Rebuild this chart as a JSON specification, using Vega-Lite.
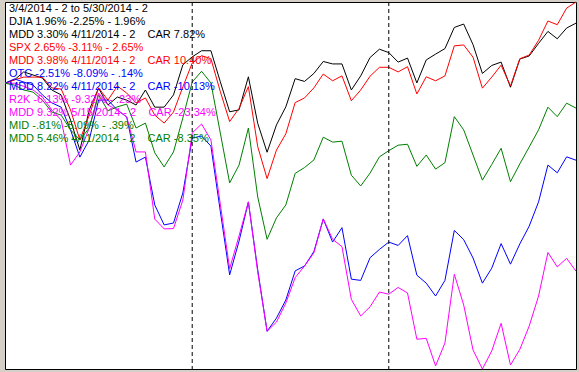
{
  "$schema": "https://vega.github.io/schema/vega-lite/v6.json",
  "width": 571,
  "height": 367,
  "autosize": {"type": "none"},
  "padding": {"left": 5, "top": 2, "right": 3, "bottom": 3},
  "background": "#d4d0c8",
  "config": {
    "view": {"fill": "white", "stroke": "black", "strokeWidth": 1},
    "font": "Liberation Sans"
  },
  "datasets": {
    "prices": [
      {"date": "2014-03-04", "DJIA": 0, "SPX": 0, "OTC": 0, "R2K": 0, "MID": 0},
      {"date": "2014-03-05", "DJIA": 0.11, "SPX": 0.11, "OTC": 0.14, "R2K": 0.0, "MID": -0.06},
      {"date": "2014-03-06", "DJIA": 0.37, "SPX": 0.2, "OTC": 0.04, "R2K": -0.1, "MID": -0.22},
      {"date": "2014-03-07", "DJIA": 0.27, "SPX": 0.2, "OTC": -0.06, "R2K": -0.22, "MID": -0.29},
      {"date": "2014-03-10", "DJIA": 0.17, "SPX": 0.2, "OTC": -0.38, "R2K": -0.45, "MID": -0.55},
      {"date": "2014-03-11", "DJIA": -0.22, "SPX": -0.15, "OTC": -0.64, "R2K": -0.87, "MID": -0.94},
      {"date": "2014-03-12", "DJIA": -0.38, "SPX": -0.19, "OTC": -0.78, "R2K": -1.2, "MID": -1.04},
      {"date": "2014-03-13", "DJIA": -1.2, "SPX": -0.87, "OTC": -1.52, "R2K": -2.67, "MID": -1.52},
      {"date": "2014-03-14", "DJIA": -2.18, "SPX": -1.85, "OTC": -2.41, "R2K": -2.24, "MID": -1.85},
      {"date": "2014-03-17", "DJIA": -0.87, "SPX": -1.04, "OTC": -1.85, "R2K": -1.46, "MID": -1.46},
      {"date": "2014-03-18", "DJIA": -0.16, "SPX": -0.15, "OTC": -0.55, "R2K": -0.32, "MID": -0.38},
      {"date": "2014-03-19", "DJIA": -0.71, "SPX": -0.55, "OTC": -0.55, "R2K": -0.71, "MID": -0.9},
      {"date": "2014-03-20", "DJIA": -0.45, "SPX": -0.09, "OTC": -0.87, "R2K": -0.87, "MID": -0.77},
      {"date": "2014-03-21", "DJIA": -0.55, "SPX": -0.32, "OTC": -1.1, "R2K": -1.1, "MID": -0.68},
      {"date": "2014-03-24", "DJIA": -0.71, "SPX": -0.64, "OTC": -2.57, "R2K": -2.24, "MID": -1.46},
      {"date": "2014-03-25", "DJIA": -0.22, "SPX": -0.48, "OTC": -2.41, "R2K": -2.24, "MID": -1.3},
      {"date": "2014-03-26", "DJIA": -0.78, "SPX": -1.04, "OTC": -3.97, "R2K": -4.43, "MID": -2.27},
      {"date": "2014-03-27", "DJIA": -0.78, "SPX": -1.3, "OTC": -4.62, "R2K": -4.75, "MID": -2.73},
      {"date": "2014-03-28", "DJIA": -0.38, "SPX": -0.94, "OTC": -4.56, "R2K": -4.74, "MID": -2.24},
      {"date": "2014-03-31", "DJIA": 0.6, "SPX": -0.12, "OTC": -3.58, "R2K": -3.81, "MID": -1.13},
      {"date": "2014-04-01", "DJIA": 0.86, "SPX": 0.66, "OTC": -1.79, "R2K": -1.62, "MID": 0.04},
      {"date": "2014-04-02", "DJIA": 1.06, "SPX": 0.9, "OTC": -1.72, "R2K": -1.33, "MID": 0.39},
      {"date": "2014-04-03", "DJIA": 1.06, "SPX": 0.8, "OTC": -2.05, "R2K": -1.85, "MID": 0.01},
      {"date": "2014-04-04", "DJIA": 0.05, "SPX": -0.27, "OTC": -4.17, "R2K": -3.94, "MID": -1.62},
      {"date": "2014-04-07", "DJIA": -0.93, "SPX": -1.25, "OTC": -6.25, "R2K": -6.05, "MID": -3.25},
      {"date": "2014-04-08", "DJIA": -0.87, "SPX": -0.82, "OTC": -5.15, "R2K": -4.98, "MID": -2.67},
      {"date": "2014-04-09", "DJIA": 0.21, "SPX": -0.11, "OTC": -3.87, "R2K": -3.87, "MID": -1.46},
      {"date": "2014-04-10", "DJIA": -1.31, "SPX": -2.07, "OTC": -6.09, "R2K": -6.16, "MID": -3.71},
      {"date": "2014-04-11", "DJIA": -2.25, "SPX": -3.11, "OTC": -8.09, "R2K": -8.09, "MID": -5.09},
      {"date": "2014-04-14", "DJIA": -1.36, "SPX": -2.18, "OTC": -7.66, "R2K": -7.79, "MID": -4.39},
      {"date": "2014-04-15", "DJIA": -0.77, "SPX": -1.65, "OTC": -7.07, "R2K": -7.17, "MID": -3.97},
      {"date": "2014-04-16", "DJIA": 0.15, "SPX": -0.63, "OTC": -6.12, "R2K": -6.34, "MID": -2.94},
      {"date": "2014-04-17", "DJIA": 0.06, "SPX": -0.48, "OTC": -5.96, "R2K": -5.96, "MID": -2.75},
      {"date": "2014-04-21", "DJIA": 0.32, "SPX": -0.15, "OTC": -5.49, "R2K": -5.53, "MID": -2.5},
      {"date": "2014-04-22", "DJIA": 0.71, "SPX": 0.3, "OTC": -4.43, "R2K": -4.42, "MID": -1.76},
      {"date": "2014-04-23", "DJIA": 0.63, "SPX": 0.08, "OTC": -5.18, "R2K": -5.09, "MID": -1.92},
      {"date": "2014-04-24", "DJIA": 0.63, "SPX": 0.24, "OTC": -4.71, "R2K": -5.33, "MID": -1.89},
      {"date": "2014-04-25", "DJIA": -0.22, "SPX": -0.57, "OTC": -6.39, "R2K": -7.05, "MID": -3.0},
      {"date": "2014-04-28", "DJIA": 0.24, "SPX": -0.22, "OTC": -6.43, "R2K": -7.59, "MID": -3.35},
      {"date": "2014-04-29", "DJIA": 0.84, "SPX": 0.23, "OTC": -5.69, "R2K": -7.29, "MID": -2.93},
      {"date": "2014-04-30", "DJIA": 1.11, "SPX": 0.52, "OTC": -5.42, "R2K": -6.81, "MID": -2.4},
      {"date": "2014-05-01", "DJIA": 1.0, "SPX": 0.52, "OTC": -5.18, "R2K": -6.88, "MID": -2.2},
      {"date": "2014-05-02", "DJIA": 0.69, "SPX": 0.37, "OTC": -5.29, "R2K": -6.66, "MID": -2.02},
      {"date": "2014-05-05", "DJIA": 0.82, "SPX": 0.54, "OTC": -4.97, "R2K": -6.84, "MID": -1.99},
      {"date": "2014-05-06", "DJIA": 0.01, "SPX": -0.35, "OTC": -6.26, "R2K": -8.35, "MID": -2.71},
      {"date": "2014-05-07", "DJIA": 0.76, "SPX": 0.21, "OTC": -6.52, "R2K": -8.32, "MID": -2.34},
      {"date": "2014-05-08", "DJIA": 0.95, "SPX": 0.08, "OTC": -6.94, "R2K": -9.22, "MID": -2.8},
      {"date": "2014-05-09", "DJIA": 1.13, "SPX": 0.24, "OTC": -6.43, "R2K": -8.47, "MID": -2.59},
      {"date": "2014-05-12", "DJIA": 1.82, "SPX": 1.22, "OTC": -4.8, "R2K": -6.23, "MID": -1.09},
      {"date": "2014-05-13", "DJIA": 1.93, "SPX": 1.25, "OTC": -5.1, "R2K": -7.23, "MID": -1.52},
      {"date": "2014-05-14", "DJIA": 1.26, "SPX": 0.85, "OTC": -5.7, "R2K": -8.7, "MID": -2.34},
      {"date": "2014-05-15", "DJIA": 0.32, "SPX": -0.16, "OTC": -6.52, "R2K": -9.32, "MID": -3.16},
      {"date": "2014-05-16", "DJIA": 0.58, "SPX": 0.2, "OTC": -6.03, "R2K": -8.73, "MID": -2.65},
      {"date": "2014-05-19", "DJIA": 0.69, "SPX": 0.59, "OTC": -5.23, "R2K": -7.83, "MID": -2.12},
      {"date": "2014-05-20", "DJIA": -0.13, "SPX": -0.09, "OTC": -5.9, "R2K": -9.19, "MID": -3.21},
      {"date": "2014-05-21", "DJIA": 0.79, "SPX": 0.8, "OTC": -5.24, "R2K": -8.68, "MID": -2.63},
      {"date": "2014-05-22", "DJIA": 0.89, "SPX": 0.92, "OTC": -4.66, "R2K": -7.92, "MID": -2.08},
      {"date": "2014-05-23", "DJIA": 1.3, "SPX": 1.4, "OTC": -3.87, "R2K": -6.94, "MID": -1.52},
      {"date": "2014-05-27", "DJIA": 1.69, "SPX": 2.03, "OTC": -2.67, "R2K": -5.52, "MID": -0.78},
      {"date": "2014-05-28", "DJIA": 1.45, "SPX": 1.91, "OTC": -2.92, "R2K": -5.99, "MID": -1.09},
      {"date": "2014-05-29", "DJIA": 1.8, "SPX": 2.45, "OTC": -2.4, "R2K": -5.71, "MID": -0.65},
      {"date": "2014-05-30", "DJIA": 1.96, "SPX": 2.65, "OTC": -2.51, "R2K": -6.13, "MID": -0.81}
    ],
    "months": [
      {"date": "2014-04-01"},
      {"date": "2014-05-01"}
    ],
    "notes": [
      {"line": 0, "series": "header", "text": "3/4/2014 - 2 to 5/30/2014 - 2"},
      {"line": 1, "series": "DJIA", "text": "DJIA 1.96% -2.25% - 1.96%"},
      {"line": 2, "series": "DJIA", "text": "MDD 3.30% 4/11/2014 - 2\u00a0\u00a0\u00a0 CAR 7.82%"},
      {"line": 3, "series": "SPX", "text": "SPX 2.65% -3.11% - 2.65%"},
      {"line": 4, "series": "SPX", "text": "MDD 3.98% 4/11/2014 - 2\u00a0\u00a0\u00a0 CAR 10.40%"},
      {"line": 5, "series": "OTC", "text": "OTC -2.51% -8.09% - .14%"},
      {"line": 6, "series": "OTC", "text": "MDD 8.22% 4/11/2014 - 2\u00a0\u00a0\u00a0 CAR -10.13%"},
      {"line": 7, "series": "R2K", "text": "R2K -6.13% -9.32% - .23%"},
      {"line": 8, "series": "R2K", "text": "MDD 9.32% 5/15/2014 - 2\u00a0\u00a0\u00a0 CAR -23.34%"},
      {"line": 9, "series": "MID", "text": "MID -.81% -5.09% - .39%"},
      {"line": 10, "series": "MID", "text": "MDD 5.46% 4/11/2014 - 2\u00a0\u00a0\u00a0 CAR -8.35%"}
    ]
  },
  "resolve": {"scale": {"y": "independent"}},
  "layer": [
    {
      "data": {"name": "prices"},
      "transform": [
        {"fold": ["DJIA", "SPX", "OTC", "R2K", "MID"], "as": ["series", "pct"]}
      ],
      "mark": {"type": "line", "strokeWidth": 1},
      "encoding": {
        "x": {
          "field": "date",
          "type": "ordinal",
          "scale": {"type": "point", "padding": 0},
          "axis": null
        },
        "y": {
          "field": "pct",
          "type": "quantitative",
          "scale": {"domain": [-9.32, 2.65], "nice": false, "zero": false},
          "axis": null
        },
        "color": {
          "field": "series",
          "type": "nominal",
          "scale": {
            "domain": ["DJIA", "SPX", "OTC", "R2K", "MID"],
            "range": ["#000000", "#ff0000", "#0000ff", "#ff00ff", "#008000"]
          },
          "legend": null
        }
      }
    },
    {
      "data": {"name": "months"},
      "mark": {"type": "rule", "color": "#000000", "strokeWidth": 1, "strokeDash": [4, 3]},
      "encoding": {
        "x": {"field": "date", "type": "ordinal"}
      }
    },
    {
      "data": {"name": "notes"},
      "mark": {
        "type": "text",
        "align": "left",
        "baseline": "middle",
        "dx": 4,
        "font": "Liberation Sans",
        "fontSize": 11
      },
      "encoding": {
        "x": {"datum": "2014-03-04", "type": "ordinal"},
        "y": {
          "field": "line",
          "type": "quantitative",
          "scale": {"domain": [-0.5, 27.73], "reverse": true, "nice": false, "zero": false},
          "axis": null
        },
        "text": {"field": "text"},
        "color": {
          "condition": {"test": "datum.series === 'header'", "value": "#000000"},
          "field": "series",
          "type": "nominal",
          "scale": {
            "domain": ["DJIA", "SPX", "OTC", "R2K", "MID"],
            "range": ["#000000", "#ff0000", "#0000ff", "#ff00ff", "#008000"]
          },
          "legend": null
        }
      }
    }
  ]
}
